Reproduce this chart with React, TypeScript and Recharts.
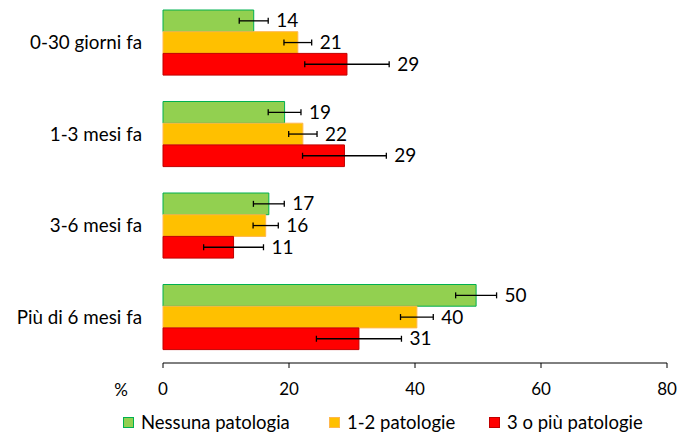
import React from 'react';
import { BarChart, Bar, XAxis, YAxis, ErrorBar, LabelList, Legend } from 'recharts';

const categories = ['0-30 giorni fa', '1-3 mesi fa', '3-6 mesi fa', 'Più di 6 mesi fa'];
const nessuna = [14.4, 19.3, 16.8, 49.7];
const nessunaErr = [2.3, 2.6, 2.45, 3.25];
const unoDue = [21.4, 22.2, 16.3, 40.3];
const unoDueErr = [2.2, 2.25, 2.0, 2.6];
const treOPiu = [29.2, 28.8, 11.2, 31.1];
const treOPiuErr = [6.7, 6.65, 4.75, 6.75];
const xTicks = [0, 20, 40, 60, 80];

const seriesNames = ['Nessuna patologia', '1-2 patologie', '3 o più patologie'];

const data = categories.map((name, i) => ({
  name,
  nessuna: nessuna[i],
  nessunaErr: nessunaErr[i],
  unoDue: unoDue[i],
  unoDueErr: unoDueErr[i],
  treOPiu: treOPiu[i],
  treOPiuErr: treOPiuErr[i],
}));

const FONT = 'Lato, "Noto Sans", sans-serif';

const makeLabel = (errs: number[]) => (props: any) => {
  const { x, y, width, height, value, index } = props;
  const w = Number(width);
  const v = Number(value);
  const ex = v ? (w * errs[index]) / v : 0;
  return (
    <text
      x={Number(x) + w + ex + 8}
      y={Number(y) + Number(height) / 2 - 1}
      dominantBaseline="central"
      fontSize={19}
      fill="#000"
      fontFamily={FONT}
    >
      {Math.round(v)}
    </text>
  );
};

const legendItems = [
  { name: seriesNames[0], fill: '#92D050', stroke: '#00B050', x: 123 },
  { name: seriesNames[1], fill: '#FFC000', stroke: '#FFB74D', x: 329 },
  { name: seriesNames[2], fill: '#FF0000', stroke: '#C00000', x: 489 },
];

const renderLegend = () => (
  <div style={{ position: 'relative', width: 693, height: 24, fontFamily: FONT, fontSize: 18.5, color: '#000' }}>
    {legendItems.map((it) => (
      <div
        key={it.name}
        style={{ position: 'absolute', left: it.x, top: 0, height: 24, display: 'flex', alignItems: 'center', whiteSpace: 'nowrap' }}
      >
        <span
          style={{
            display: 'inline-block',
            width: 9,
            height: 9,
            background: it.fill,
            border: `1px solid ${it.stroke}`,
            marginRight: 7,
          }}
        />
        <span>{it.name}</span>
      </div>
    ))}
  </div>
);

export default function App() {
  return (
    <div style={{ position: 'absolute', left: 0, top: 0, width: 693, height: 434, background: '#fff' }}>
      <BarChart
        width={693}
        height={434}
        data={data}
        layout="vertical"
        margin={{ top: -3, right: 26, bottom: 0, left: 0 }}
        barSize={21.7}
        barGap={0}
      >
        <XAxis
          type="number"
          domain={[0, 80]}
          ticks={xTicks}
          interval={0}
          height={47}
          tickSize={5}
          tickMargin={15}
          axisLine={{ stroke: '#000', strokeWidth: 1 }}
          tickLine={{ stroke: '#000', strokeWidth: 1 }}
          tick={{ fill: '#000', fontSize: 17, fontFamily: FONT }}
          label={{ value: '%', position: 'left', offset: 35, dy: 3, fill: '#000', fontSize: 17, fontFamily: FONT }}
        />
        <YAxis
          type="category"
          dataKey="name"
          width={163}
          axisLine={false}
          tickLine={false}
          tickSize={0}
          tickMargin={21}
          tick={{ fill: '#000', fontSize: 18.8, fontFamily: FONT }}
        />
        <Legend verticalAlign="bottom" content={renderLegend} />
        <Bar dataKey="nessuna" name={seriesNames[0]} fill="#92D050" stroke="#00B050" strokeWidth={1} isAnimationActive={false}>
          <ErrorBar dataKey="nessunaErr" direction="x" width={3} stroke="#000" strokeWidth={1.3} />
          <LabelList dataKey="nessuna" content={makeLabel(nessunaErr)} />
        </Bar>
        <Bar dataKey="unoDue" name={seriesNames[1]} fill="#FFC000" stroke="#FFB74D" strokeWidth={1} isAnimationActive={false}>
          <ErrorBar dataKey="unoDueErr" direction="x" width={3} stroke="#000" strokeWidth={1.3} />
          <LabelList dataKey="unoDue" content={makeLabel(unoDueErr)} />
        </Bar>
        <Bar dataKey="treOPiu" name={seriesNames[2]} fill="#FF0000" stroke="#C00000" strokeWidth={1} isAnimationActive={false}>
          <ErrorBar dataKey="treOPiuErr" direction="x" width={3} stroke="#000" strokeWidth={1.3} />
          <LabelList dataKey="treOPiu" content={makeLabel(treOPiuErr)} />
        </Bar>
      </BarChart>
    </div>
  );
}
